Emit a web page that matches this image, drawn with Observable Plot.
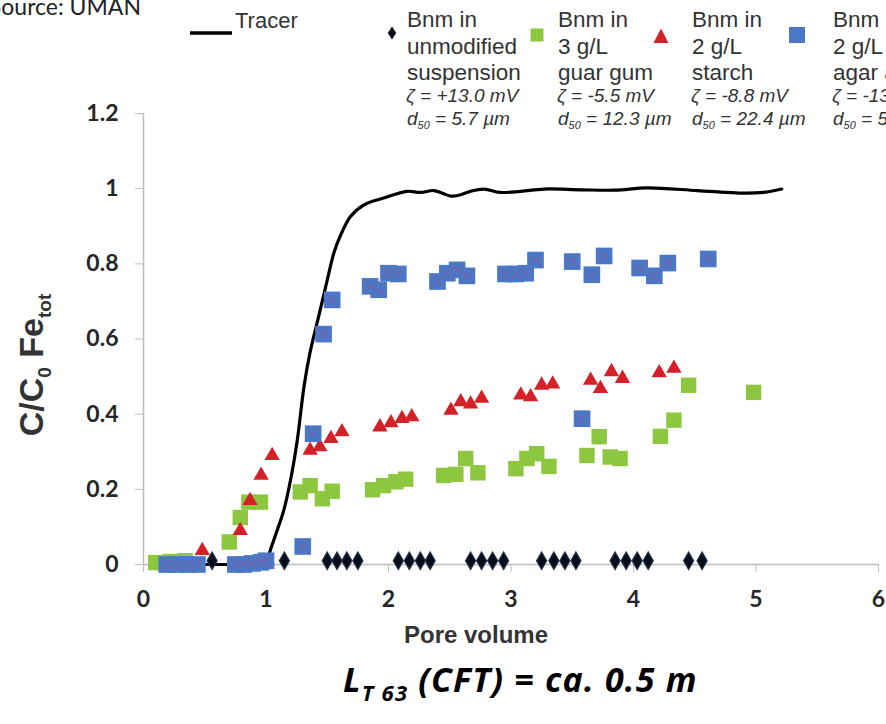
<!DOCTYPE html>
<html>
<head>
<meta charset="utf-8">
<script src="https://cdn.jsdelivr.net/npm/d3@7"></script>
<script src="https://cdn.jsdelivr.net/npm/@observablehq/plot@0.6"></script>
<style>
  html, body { margin: 0; padding: 0; background: #fff; }
  #wrap { position: relative; width: 886px; height: 724px; overflow: hidden; background: #fff; }
  #wrap > svg { position: absolute; left: 0; top: 0; }
  g[aria-label="y-axis tick"], g[aria-label="x-axis tick"] { stroke: #bdbdbd; }
  g[aria-label="y-axis tick label"], g[aria-label="x-axis tick label"] {
    fill: #262626; font-weight: bold; font-family: Lato, "Open Sans", sans-serif; font-size: 23px;
  }
</style>
</head>
<body>
<div id="wrap"></div>
<script>
// ---------- data ----------
const tracerPV = [0.2, 0.5, 0.72, 0.9, 1.0, 1.04, 1.09, 1.145, 1.2, 1.255, 1.31, 1.36, 1.43, 1.5, 1.555, 1.61, 1.69, 1.8, 1.96, 2.15, 2.26, 2.37, 2.44, 2.51, 2.59, 2.67, 2.78, 2.91, 3.08, 3.27, 3.57, 3.85, 4.11, 4.52, 4.9, 5.06, 5.21];
const tracerC  = [0, 0, 0, 0, 0.01, 0.043, 0.09, 0.144, 0.224, 0.33, 0.473, 0.565, 0.66, 0.757, 0.83, 0.877, 0.926, 0.957, 0.975, 0.993, 0.99, 0.995, 0.988, 0.98, 0.984, 0.993, 0.999, 0.99, 0.993, 0.999, 0.997, 0.996, 1.002, 0.995, 0.988, 0.99, 0.999];

const unmodPV = [0.56, 1.15, 1.5, 1.58, 1.66, 1.75, 2.08, 2.17, 2.26, 2.34, 2.67, 2.76, 2.85, 2.94, 3.25, 3.35, 3.44, 3.53, 3.85, 3.94, 4.03, 4.12, 4.45, 4.56];
const unmodC  = [0.01, 0.01, 0.01, 0.01, 0.01, 0.01, 0.01, 0.01, 0.01, 0.01, 0.01, 0.01, 0.01, 0.01, 0.01, 0.01, 0.01, 0.01, 0.01, 0.01, 0.01, 0.01, 0.01, 0.01];

const guarPV = [0.1, 0.22, 0.34, 0.7, 0.79, 0.86, 0.955, 1.28, 1.36, 1.46, 1.54, 1.87, 1.96, 2.06, 2.14, 2.45, 2.55, 2.63, 2.73, 3.04, 3.13, 3.21, 3.31, 3.62, 3.72, 3.81, 3.89, 4.22, 4.33, 4.45, 4.98];
const guarC  = [0.005, 0.008, 0.01, 0.06, 0.125, 0.166, 0.166, 0.193, 0.21, 0.175, 0.195, 0.199, 0.21, 0.22, 0.227, 0.237, 0.24, 0.282, 0.244, 0.255, 0.282, 0.295, 0.261, 0.29, 0.34, 0.286, 0.282, 0.341, 0.384, 0.477, 0.458];

const starchPV = [0.48, 0.79, 0.87, 0.96, 1.05, 1.36, 1.44, 1.53, 1.62, 1.93, 2.02, 2.11, 2.19, 2.51, 2.59, 2.67, 2.76, 3.08, 3.16, 3.25, 3.34, 3.65, 3.73, 3.82, 3.91, 4.21, 4.33];
const starchC  = [0.037, 0.09, 0.17, 0.237, 0.29, 0.304, 0.313, 0.335, 0.353, 0.366, 0.377, 0.388, 0.393, 0.41, 0.433, 0.427, 0.442, 0.451, 0.446, 0.477, 0.48, 0.49, 0.468, 0.513, 0.495, 0.51, 0.522];

const agarPV = [0.19, 0.27, 0.36, 0.44, 0.75, 0.82, 0.89, 0.96, 1.0, 1.3, 1.385, 1.47, 1.54, 1.85, 1.92, 2.0, 2.08, 2.4, 2.48, 2.56, 2.64, 2.955, 3.04, 3.12, 3.2, 3.5, 3.58, 3.66, 3.76, 4.05, 4.17, 4.28, 4.61];
const agarC  = [0, 0, 0, 0, 0, 0, 0.003, 0.006, 0.01, 0.048, 0.348, 0.613, 0.704, 0.74, 0.731, 0.775, 0.773, 0.753, 0.775, 0.784, 0.768, 0.773, 0.773, 0.775, 0.81, 0.806, 0.388, 0.771, 0.821, 0.789, 0.768, 0.802, 0.813];

const xTicks = [0, 1, 2, 3, 4, 5, 6];
const xTickLabels = ["0", "1", "2", "3", "4", "5", "6"];
const yTicks = [0, 0.2, 0.4, 0.6, 0.8, 1, 1.2];
const yTickLabels = ["0", "0.2", "0.4", "0.6", "0.8", "1", "1.2"];

const sourceText = "Source: UMAN";
const tracerLabel = "Tracer";
const legendNames = [
  ["Bnm in", "unmodified", "suspension"],
  ["Bnm in", "3 g/L", "guar gum"],
  ["Bnm in", "2 g/L", "starch"],
  ["Bnm in", "2 g/L", "agar agar"]
];
const legendZeta = ["+13.0 mV", "-5.5 mV", "-8.8 mV", "-13"];
const legendD50 = ["5.7 µm", "12.3 µm", "22.4 µm", "5"];
const xLabel = "Pore volume";
const captionMain = "L";
const captionSub = "T 63";
const captionRest = " (CFT) = ca. 0.5 m";

// ---------- build tables ----------
const pairs = (xs, ys) => xs.map((x, i) => ({x, y: ys[i]}));
const tracer = pairs(tracerPV, tracerC);
const unmod = pairs(unmodPV, unmodC);
const guar = pairs(guarPV, guarC);
const starch = pairs(starchPV, starchC);
const agar = pairs(agarPV, agarC);

const colGreen = "#8DC63F", colRed = "#D42027", colBlue = "#4A78C6", colDiamond = "#0a0c18";

const chart = Plot.plot({
  width: 886,
  height: 724,
  marginTop: 113,
  marginBottom: 160,
  marginLeft: 143,
  marginRight: 8,
  style: {background: "transparent", overflow: "visible"},
  x: {domain: [0, 6]},
  y: {domain: [0, 1.2]},
  marks: [
    Plot.axisY({ticks: yTicks, tickFormat: d => yTickLabels[yTicks.indexOf(d)], tickSize: 8, tickPadding: 17, label: null, fontSize: 23, fontWeight: "bold"}),
    Plot.axisX({ticks: xTicks, tickFormat: d => xTickLabels[xTicks.indexOf(d)], tickSize: 8, tickPadding: 18, label: null, fontSize: 23, fontWeight: "bold"}),
    Plot.ruleX([0], {stroke: "#bdbdbd", strokeWidth: 1.5}),
    Plot.ruleY([0], {stroke: "#bdbdbd", strokeWidth: 1.5}),
    Plot.line(tracer, {x: "x", y: "y", stroke: "#000", strokeWidth: 3.2, curve: "catmull-rom"}),
    Plot.dot(guar, {x: "x", y: "y", symbol: "square", r: 8.7, fill: colGreen}),
    Plot.dot(starch, {x: "x", y: "y", symbol: "triangle", r: 5.7, fill: colRed}),
    Plot.dot(agar, {x: "x", y: "y", symbol: "square", r: 9.4, fill: colBlue}),
    Plot.dot(agar, {x: "x", y: "y", symbol: "times", r: 4.5, stroke: "#a0508f", strokeWidth: 1.2, strokeOpacity: 0.5}),
    Plot.dot(unmod, {x: "x", y: "y", symbol: "diamond", r: 5.3, fill: colDiamond, stroke: "#1d3352", strokeWidth: 1.2})
  ]
});

const wrap = document.getElementById("wrap");
wrap.appendChild(chart);

// ---------- overlay: texts & legend ----------
const ov = d3.create("svg")
  .attr("width", 886).attr("height", 724)
  .attr("viewBox", "0 0 886 724")
  .style("pointer-events", "none");

const sans = "'Liberation Sans', Arial, sans-serif";

ov.append("text").attr("x", 141).attr("y", 15).attr("text-anchor", "end")
  .attr("font-family", "Lato, 'Open Sans', sans-serif").attr("font-size", 23).attr("fill", "#222")
  .text(sourceText);

// tracer legend
ov.append("line").attr("x1", 190).attr("x2", 232).attr("y1", 33).attr("y2", 33)
  .attr("stroke", "#000").attr("stroke-width", 3.5);
ov.append("text").attr("x", 235).attr("y", 28).attr("font-family", sans).attr("font-size", 22).attr("fill", "#333")
  .text(tracerLabel);

// legend swatches
ov.append("path").attr("d", "M392,26.5 L396.2,33 L392,39.5 L387.8,33Z").attr("fill", colDiamond);
ov.append("rect").attr("x", 530.5).attr("y", 28.5).attr("width", 13).attr("height", 13).attr("fill", colGreen);
ov.append("path").attr("d", "M661,28.5 L668.5,43 L653.5,43Z").attr("fill", colRed);
ov.append("rect").attr("x", 789).attr("y", 27).attr("width", 16).attr("height", 16).attr("fill", colBlue);

const colX = [407, 558, 692, 833];
const nameY = [27, 53.5, 80];
legendNames.forEach((lines, c) => {
  lines.forEach((ln, j) => {
    ov.append("text").attr("x", colX[c]).attr("y", nameY[j])
      .attr("font-family", sans).attr("font-size", 22.5).attr("fill", "#333").text(ln);
  });
  ov.append("text").attr("x", colX[c] - 1).attr("y", 102)
    .attr("font-family", sans).attr("font-size", 19).attr("font-style", "italic").attr("fill", "#333")
    .text("ζ = " + legendZeta[c]);
  const t = ov.append("text").attr("x", colX[c]).attr("y", 125)
    .attr("font-family", sans).attr("font-size", 19).attr("font-style", "italic").attr("fill", "#333");
  t.append("tspan").text("d");
  t.append("tspan").attr("font-size", 11).attr("dy", 4).text("50");
  t.append("tspan").attr("dy", -4).text(" = " + legendD50[c]);
});

// y label
const yl = ov.append("text").attr("transform", "translate(43,365) rotate(-90)")
  .attr("text-anchor", "middle").attr("font-family", sans).attr("font-weight", "bold")
  .attr("font-size", 34).attr("fill", "#333");
yl.append("tspan").text("C/C");
yl.append("tspan").attr("font-size", 19).attr("dy", 8).text("0");
yl.append("tspan").attr("dy", -8).text(" Fe");
yl.append("tspan").attr("font-size", 19).attr("dy", 8).text("tot");

// x label
ov.append("text").attr("x", 476).attr("y", 643).attr("text-anchor", "middle")
  .attr("font-family", sans).attr("font-weight", "bold").attr("font-size", 24).attr("fill", "#333")
  .text(xLabel);

// caption
const cap = ov.append("text").attr("x", 343).attr("y", 692)
  .attr("font-family", "'Open Sans', Lato, sans-serif").attr("font-weight", "bold").attr("font-style", "italic")
  .attr("font-size", 34).attr("letter-spacing", 1.2).attr("fill", "#000");
cap.append("tspan").text(captionMain);
cap.append("tspan").attr("font-size", 22).attr("dy", 9).text(captionSub);
cap.append("tspan").attr("dy", -9).text(captionRest);

wrap.appendChild(ov.node());
</script>
</body>
</html>
